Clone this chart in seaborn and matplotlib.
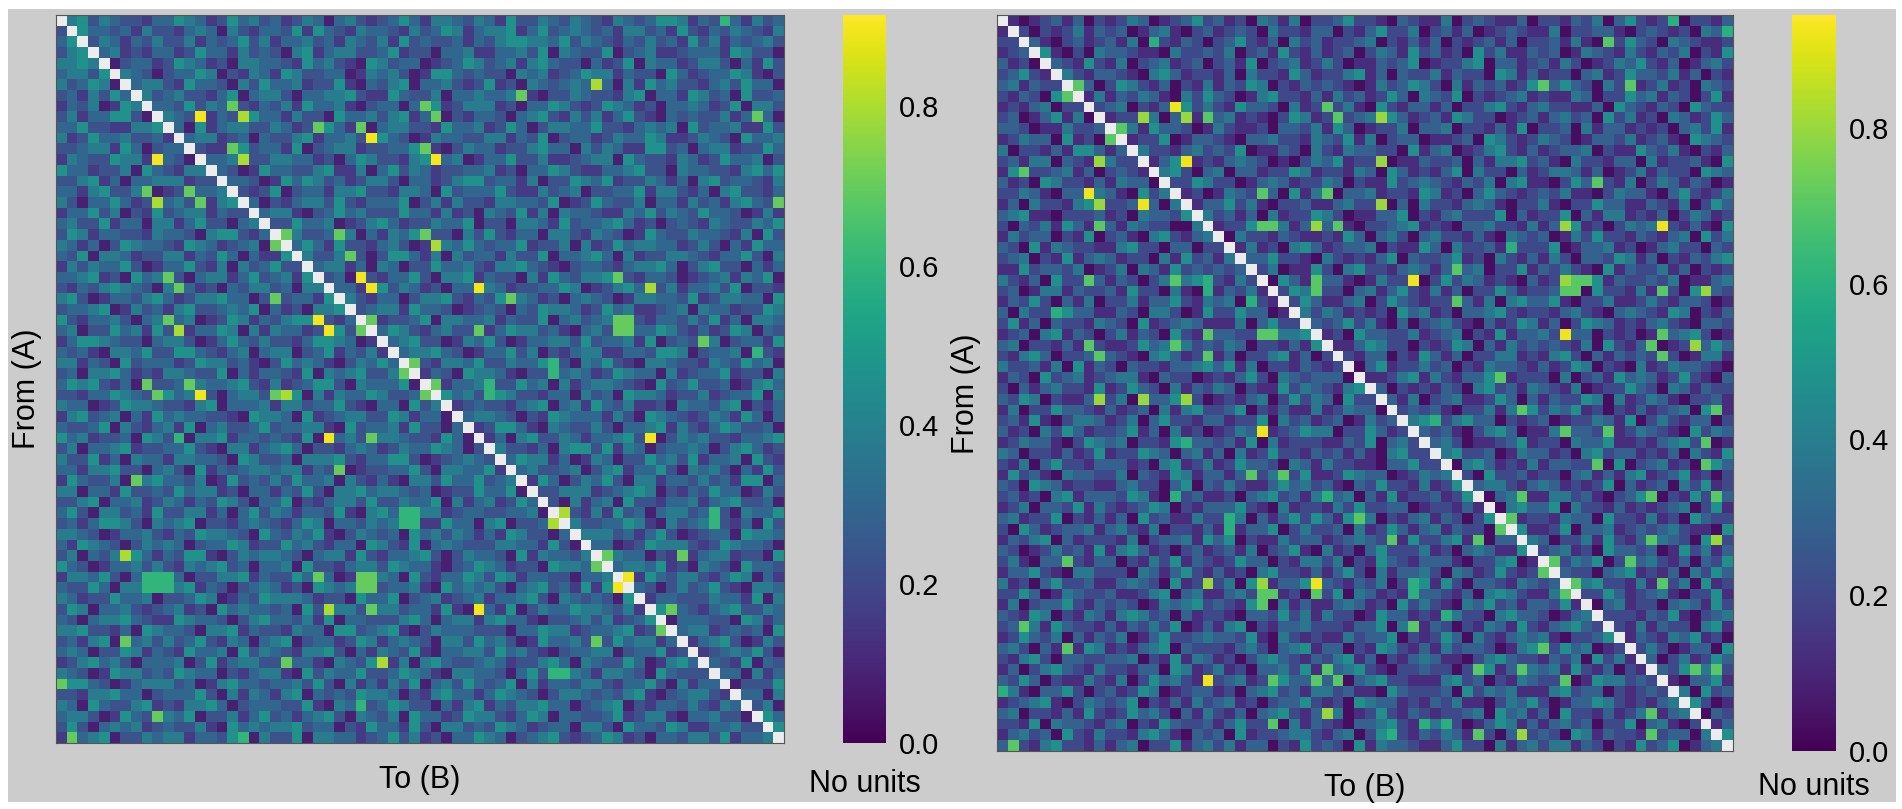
import numpy as np
import pandas as pd
import matplotlib
matplotlib.use("Agg")
import matplotlib.pyplot as plt
import seaborn as sns
from matplotlib.patches import Rectangle

# cell levels, 0 = dark purple ... 9 = yellow
left_rows = [
    "3452432213 3543125342 3124303421 2353144324 3152243243 2143235541 32431423",
    "2453323142 2134304213 3251532143 3214235413 4451352343 2314423152 13243214",
    "3542431324 2241323524 1334231432 4152322313 2455443524 3213242315 24132342",
    "2454341213 3125331423 2045134422 3512203341 1334250432 2502341123 33154220",
    "4454502331 2543120443 3215342105 4233012354 2341453220 3125043312 44203152",
    "3442514320 2335402143 1542233014 3420155323 2204341235 4413220531 23354102",
    "4235401344 2153320425 3341225103 2450334212 5120432343 2304153422 13425330",
    "2314253042 3422135034 4203344521 1532240334 3345102243 2214503315 42305223",
    "1324015443 3252430213 2415334102 3303251244 4120335421 2543120334 31250442",
    "2413355204 4320132453 3142205334 2451340213 3203452142 4135210323 22413530",
    "3352211445 2305134422 4312553120 3442215334 1253024433 5221343405 23341152",
    "4125334223 1534412303 2245133421 5320143322 4413250233 1243354112 43205334",
    "2234415302 3342114523 3150234412 2335410243 3122453304 2431155230 34412253",
    "1432254413 3205334122 4433120354 2214533401 3352241123 4405322143 12533402",
    "5331224053 2144332015 3322451140 3524312233 4120335421 1334522043 32214535",
    "2245130334 4412253320 1535423124 4203312455 2331402254 3512243130 45233214",
    "3314522430 1253344212 5023314452 2144305233 3521142340 2233514421 30452213",
    "4203353124 3422145330 2134425213 3350241422 1443325012 5322403314 23145320",
    "1335240215 2344132253 4410235342 2253314120 4325140433 2114352432 53320141",
    "3422513304 4135220341 2253340124 5312243350 2204431523 3453120232 14322435",
    "2541332214 3320455213 3142235403 1435322042 5213304421 4320153224 33214052",
    "4313025433 2154312340 4235315221 3420144353 2335122404 1253443312 42031533",
    "3250443122 4413253031 1534224320 2553140423 3142250334 5304122443 21335204",
    "1424335201 3352140423 5221344130 4302253342 1445321023 3213445302 45220313",
    "3345120534 2203441352 3415223042 1335204451 3220415324 4532133201 23414350",
    "2132454320 4531203244 2304453312 5243120335 4312233540 1245302413 34250221",
    "4520133245 3124453302 4233150421 3302445213 2554312034 3201443325 12443305",
    "2334501423 1452234350 3120445323 4415332012 3203254431 2534112340 43312254",
    "5213342034 3340125413 2455321304 1223504433 4132250342 3405213324 25130443",
    "3402253415 2213354041 4331205243 3542134220 1354423103 4220335421 31254032",
    "1355432203 4420135324 2213554301 3345220143 5201334425 2334150232 44023315",
    "3231044352 2553213403 4402351324 1234453201 3352402134 4113325540 23340521",
    "4413205233 3125442310 2534310243 5302214435 2243351204 3521044322 14325340",
    "2304453121 4432250313 3215043452 2443132054 4310225343 1254330412 33512204",
    "3545213042 2304334521 4123552043 3350421334 1225340413 4432105235 22301453",
    "2213354320 5341203442 3250414335 4223105342 3542213304 2305443122 41233504",
    "4330125443 2214503334 1442335210 3305244123 2213450341 5324112043 32450213",
    "1452340315 3433221054 4305123442 2541330234 4320215433 3142054321 24315303",
    "3223504213 4150342235 2334410523 3415220341 2553104322 4203345142 13542230",
    "5341223054 2304451332 3215043424 4432215303 1304522431 3345210243 42213345",
    "2403345122 3352104413 4530221343 1243354302 3422130455 2514302334 30245312",
    "4225130433 1443320542 2304445213 3552012343 2235441301 4302253425 13340521",
    "3314452203 4205132344 3441325012 2335204433 5113422340 2451335204 34203152",
    "1532240345 3324015232 4253340421 3104425335 2342153024 3520441332 42315503",
    "4403315223 2534412033 1325204453 4432301225 3350122444 1234540213 25330142",
    "2245033412 4313254203 3502134425 2243350413 4125332041 3405221334 13452230",
    "3520442315 2244130352 4313325104 5302441233 2233405521 4152303442 31204335",
    "2313554204 3450221343 2135403324 3442115330 4502233142 2335410423 44213052",
    "4432013342 1325443205 3243510243 2305342431 3154220334 4423135201 23305443",
    "3154320243 4302335412 2534213305 4215034322 2443315203 3301254442 12543320",
    "2403245531 3255102434 4320344152 1334520243 3205143324 5243302131 34412205",
    "5320133424 2143452303 3405221344 2543310235 4312205443 2234435120 43205332",
    "1443520332 3302244513 2253430142 4305213354 2541332203 3420153244 21354031",
    "3225304413 4451320234 3120543422 2334105343 4203452315 1543320242 35210443",
    "4312253340 2235401325 4443122053 3502341234 1334520432 3205413322 24331504",
    "2540334212 3412053433 2305234421 4423315102 3150243354 4324105232 13452243",
    "3203445321 1543320245 3324150332 2245303441 4533102234 2412354033 32205413",
    "4452213054 3320445132 2143305523 4510243332 2203354412 3345120434 41232305",
    "2314503342 4235214303 4502331254 1343204425 3420153342 2253441301 34520142",
    "3430225413 2153340524 3214452031 4325103344 2534210233 4402335124 12343520",
    "1245342033 3402513442 2533104325 3140453223 4312245304 3225301453 43215032",
    "4320154423 2543302134 4105243352 2354310443 3203524143 1443205322 25330413",
    "3553201344 4230145332 3342520413 1425034253 2350413324 4213352041 33402225",
    "2214453302 3335204143 1450323254 4302145331 3543202443 2324510234 42153304",
    "4305322451 2144530233 3225104342 3542203145 1324453302 3450213324 21435240",
    "3442015323 4350224135 2313452043 2405331254 4213540332 2351244103 34220453",
    "2520343412 3224105343 4452330215 3315204423 2543123304 4205332541 13342205",
    "1334502243 4413325104 2250443312 3524120335 4302345212 3541203324 42513340",
]

right_rows = [
    "2101231302 1243012352 3120431402 2352210321 1402321130 2213240352 12302213",
    "1320212413 2301341023 1232042213 3021352240 2313012321 1402233102 32120431",
    "2213102312 3140221320 2352130423 1223402131 3021231302 2314102253 20432112",
    "1232510204 3321104223 2402315213 1230243152 3120524113 2301432142 13240215",
    "3120232152 1402341230 2315023412 4201132350 1224503312 3142012435 21301342",
    "2352104213 3210453122 1304221531 2245130322 4132205413 1220341253 32413021",
    "3413221030 2542130214 1325402132 3210142354 2041323125 1353204211 24120432",
    "2132052314 1324310425 3201452213 1423125304 3250212341 2114302253 41320251",
    "1213402252 3402131524 2153320412 3241052133 1302245213 4221130532 13205322",
    "2301351402 1225403213 3412102541 2023415312 3154220123 1342305241 20431253",
    "3320114223 2041533201 4211203324 1530122403 3402213150 2230413312 12034251",
    "1243305120 3412250133 2103342214 3251402330 1123054212 4320133241 23105432",
    "4022131553 1304221342 3250113204 2143322051 3401245213 1233402115 32410213",
    "2314403211 4220135312 1343201024 3512240113 2230314452 3104221330 41223105",
    "1502234130 2321145203 4033122541 2214305312 1350422031 2443130124 13220543",
    "3120542213 1433012254 2201343122 4302115234 3213240451 1025332140 24313201",
    "2243103324 3105241120 1432230514 2033412215 4120353212 3241102433 10352124",
    "1304221452 2231304113 3524102231 1342250304 2213431022 4102253311 32140253",
    "3451102223 1204332514 2313041225 4201133502 1342225031 2250314412 13024312",
    "2032415312 3143220041 1225304132 3410223451 2103342214 1335120243 42213105",
    "1423302150 2310452134 3042213211 2153034203 4221310432 3014252213 21340524",
    "3205143221 1452203302 2314120453 1233402115 3042231422 2501334120 13422032",
    "2340215134 3122041523 1403352210 4212135032 2351204213 1420332541 30213245",
    "1152332401 2404315232 3231240115 2045221343 1313402251 3242105132 24130212",
    "4213052213 1320243451 2142305312 3310142240 2524312103 1203451322 32401134",
    "2301441322 3152204103 1324132540 2203413521 4130225312 2341052214 13205432",
    "1325203140 2241335214 3402211253 1134025321 2223140453 3510224112 42133201",
    "3042215331 1320442015 2253301142 4312120534 1203345212 2134210343 21540213",
    "2513032214 3205123431 1140352223 2352410302 3421031254 1302543121 34210332",
    "1230451320 2413205213 3322104451 1205332241 2340215133 4213302120 12345201",
    "3402213152 1125340423 2430221315 3113542202 1254031423 2321405213 30124353",
    "2145302231 3210453124 1302245130 2421330215 3130224412 1452031323 23201441",
    "4223140513 2032213345 3514022132 1240351224 2302143321 3125402104 12433210",
    "1320523412 3441032201 2135204323 3302112451 4213350122 2040231534 31252103",
    "2031342215 1253204132 4302115243 2145330212 1320452314 3214012253 20431322",
    "3254021133 2402335120 1213402524 3052213140 2341125303 1322540412 43102231",
    "1402253321 3123041452 2350213114 1243305232 3102241425 2435120213 12340531",
    "2315102443 1240352213 3122504231 2301423145 1245330212 3012243150 24213302",
    "3120425312 2351304120 1243112354 4022531213 2310245301 1453320124 32105243",
    "1243310254 3402215133 2315041222 1132503424 3420112351 2204335112 13452201",
    "4302213125 1225430341 3041252213 2313104522 1452230143 3120452331 21304215",
    "2140352213 3312045124 1253320431 4221103352 2304531214 1332240502 34120353",
    "1523104332 2403215413 3130242251 1254330124 3412052231 2203413145 12351202",
    "3205431221 1342203503 2421135342 3103252214 1250344213 4312125031 23042512",
    "2312045133 3254102231 1203452314 2340315122 3125203441 1442310235 30215243",
    "1240332514 2123540213 3352104122 1425223301 2213140453 3504221312 12340251",
    "3412250213 1305231142 2240313525 3152402134 1320253412 2143305221 41205322",
    "2053123341 3421402213 1213350242 2304125313 4132202451 1250334123 23421105",
    "1324503122 2140233415 3502114233 1234320152 2451103324 3022415213 14320532",
    "3201242315 1453120231 2314023510 4120352224 1203431152 2341205332 30152413",
    "2410335213 3021425132 1253302144 2402153213 3310224501 1224350213 42130325",
    "1335210442 2204313521 3120452213 1352041334 2043125212 4132203451 21304253",
    "4120352231 1343205123 2405113352 3213240215 1520332143 2301452214 13240512",
    "2253014322 3112450341 1342231205 2504312133 3213045421 1430225312 34102251",
    "1402335213 2320143452 3215204131 1343120524 2104352313 3251203412 20343152",
    "3215402143 1454230312 2103325241 4220153312 1342204533 2013452221 32510234",
    "2304153221 3132425013 1450213342 2213350421 3202143152 1345320214 13220451",
    "1253240313 2401352234 3325104212 1142335021 2530421343 4102235313 21435120",
    "3420312154 1213450322 2134203451 3302154213 1423320145 2253401232 42013305",
    "2145203322 3340215143 1202453213 2451302134 3110245322 1324052413 30241253",
    "1302453214 2213305412 4120334251 1345210223 2202451334 3415213021 13250412",
    "3253021142 1402534213 2341205332 3103452211 1452302143 2230154423 24103351",
    "2410335202 3125401233 1203452314 4231105322 2305243411 1452330212 32140523",
    "1234510243 2350213142 3412023352 1205433121 3241102435 2013354212 13425201",
    "3402213152 1253420314 2130345213 3401252132 1223405341 3052213124 21345032",
    "2215043321 3402153223 1352240413 2103345212 4220135413 1342302250 34102413",
    "1342305214 2214531032 3051223442 1340252213 2431120352 3205413221 12330425",
    "3021452213 1340225134 2413302152 3205143321 1352204134 2441320215 23501342",
]

# bright cells (row, col, level)
left_peaks = [
    (0, 62, 6), (6, 50, 8), (7, 43, 7), (9, 13, 9), (9, 17, 8), (8, 16, 7), (8, 34, 7),
    (9, 35, 7), (10, 24, 7), (10, 28, 7), (11, 29, 9), (9, 65, 7), (13, 9, 9), (12, 16, 7),
    (13, 17, 8), (12, 34, 7), (13, 35, 9), (16, 8, 7), (17, 9, 8), (16, 12, 7), (17, 13, 7),
    (17, 67, 7), (20, 21, 7), (21, 20, 7), (20, 26, 7), (20, 34, 7), (21, 35, 8), (22, 27, 7),
    (24, 10, 7), (25, 11, 7), (24, 28, 9), (25, 29, 9), (25, 39, 9), (24, 52, 7), (25, 55, 8),
    (26, 20, 7), (26, 42, 7), (28, 10, 7), (29, 11, 8), (28, 24, 9), (29, 25, 9), (28, 29, 7),
    (29, 28, 7), (29, 39, 7), (28, 52, 7), (28, 53, 7), (29, 52, 7), (29, 53, 7), (30, 60, 7),
    (31, 65, 6), (32, 33, 7), (33, 32, 7), (32, 46, 6), (33, 46, 6),
    (34, 8, 7), (35, 9, 7), (34, 12, 7), (35, 13, 9), (35, 21, 8), (35, 20, 7), (34, 35, 7),
    (35, 34, 7), (34, 40, 6), (35, 40, 6), (39, 25, 9), (39, 29, 7), (39, 55, 9), (39, 11, 6),
    (42, 26, 7), (43, 7, 7), (46, 32, 6), (46, 33, 6), (47, 32, 6), (47, 33, 6), (46, 47, 8),
    (47, 46, 8), (46, 61, 6), (47, 61, 6), (50, 6, 8), (50, 58, 7), (50, 51, 7), (51, 50, 7),
    (52, 8, 6), (52, 9, 6), (52, 10, 6), (53, 8, 6), (53, 9, 6), (53, 10, 6), (52, 24, 7),
    (52, 28, 7), (52, 29, 7), (53, 28, 7), (53, 29, 7), (52, 53, 9), (53, 52, 9), (55, 25, 8),
    (55, 29, 7), (55, 39, 9), (55, 57, 7), (57, 56, 7), (58, 6, 7), (58, 50, 7), (60, 21, 7),
    (60, 30, 8), (61, 46, 6), (61, 47, 6), (62, 0, 7), (65, 9, 7), (64, 28, 6), (67, 1, 7),
    (67, 17, 6),
]

right_peaks = [
    (0, 62, 6), (1, 67, 6), (2, 56, 7), (2, 14, 6), (6, 7, 7), (7, 6, 7), (6, 50, 7), (6, 58, 7),
    (8, 16, 9), (9, 13, 8), (9, 17, 8), (9, 19, 7), (8, 30, 7), (9, 31, 7), (9, 35, 8),
    (10, 11, 7), (11, 10, 7), (13, 9, 8), (13, 17, 9), (13, 35, 8), (14, 2, 7), (16, 8, 9),
    (17, 9, 8), (17, 13, 9), (16, 24, 7), (16, 30, 7), (17, 35, 8), (15, 55, 7), (19, 9, 7),
    (19, 24, 7), (19, 25, 7), (19, 29, 8), (19, 31, 7), (19, 52, 8), (19, 61, 9), (21, 47, 6),
    (23, 42, 7), (24, 38, 9), (24, 8, 7), (24, 16, 7), (24, 19, 6), (25, 19, 6), (24, 29, 7),
    (25, 29, 7), (24, 52, 8), (24, 53, 7), (24, 54, 7), (25, 52, 7), (25, 53, 7), (25, 61, 7),
    (25, 65, 8), (26, 42, 7), (26, 23, 6), (27, 5, 6), (29, 19, 7), (29, 24, 7), (29, 25, 7),
    (29, 52, 9), (29, 61, 7), (30, 8, 7), (30, 16, 7), (30, 60, 7), (30, 64, 8), (31, 9, 7),
    (31, 19, 7), (31, 61, 7), (33, 46, 7),
    (35, 9, 8), (35, 13, 8), (35, 17, 8), (36, 48, 7), (36, 66, 7), (37, 40, 6), (38, 24, 9),
    (38, 52, 7), (38, 56, 7), (39, 17, 6), (39, 65, 7), (41, 65, 7), (41, 55, 7), (42, 23, 7),
    (42, 26, 7), (44, 16, 6), (44, 30, 6), (44, 48, 7), (44, 60, 7), (44, 66, 7), (46, 33, 7),
    (46, 47, 7), (47, 46, 7), (46, 21, 6), (47, 21, 6), (48, 66, 8), (48, 60, 7), (48, 44, 7),
    (48, 36, 7), (50, 6, 7), (50, 58, 7), (50, 51, 7), (51, 50, 7), (52, 19, 8), (52, 24, 8),
    (53, 24, 7), (54, 24, 7), (53, 25, 7), (52, 29, 9), (53, 29, 7), (52, 53, 7), (53, 52, 7),
    (52, 61, 7), (52, 38, 6), (53, 38, 6), (56, 2, 7), (56, 38, 7), (55, 41, 6), (58, 6, 7),
    (58, 50, 7), (60, 30, 7), (61, 29, 7), (61, 31, 7), (61, 19, 9), (61, 25, 7), (60, 44, 7),
    (60, 48, 7), (61, 52, 7), (60, 64, 7), (60, 66, 7), (62, 0, 6), (64, 30, 8), (64, 60, 7),
    (65, 25, 7), (65, 39, 6), (65, 41, 6), (66, 44, 7), (66, 48, 8), (66, 60, 7), (66, 36, 6),
    (67, 1, 7),
]

# what each level stands for (the left map is lighter overall than the right one)
left_levels = [0.08, 0.16, 0.23, 0.30, 0.38, 0.46, 0.60, 0.70, 0.80, 0.90]
right_levels = [0.03, 0.12, 0.21, 0.29, 0.38, 0.47, 0.60, 0.70, 0.80, 0.92]

left_vmax = 0.915
right_vmax = 0.945
cbar_ticks = [0.0, 0.2, 0.4, 0.6, 0.8]
x_label = "To (B)"
y_label = "From (A)"
unit_label = "No units"


def build_matrix(rows, peaks, levels):
    grid = []
    for i, r in enumerate(rows):
        cells = r.replace(" ", "")
        if len(cells) != 68:
            raise ValueError(f"row {i} has {len(cells)} cells")
        grid.append([int(ch) for ch in cells])
    grid = np.array(grid)
    for r, c, lvl in peaks:
        grid[r, c] = lvl
    return pd.DataFrame(np.array(levels)[grid])


W, H = 1902, 809


def box(x0, y0, x1, y1):
    # pixel box -> figure fraction [left, bottom, width, height]
    return [x0 / W, 1 - y1 / H, (x1 - x0) / W, (y1 - y0) / H]


sns.set_theme(style="white")
plt.rcParams['font.family'] = ['Liberation Sans', 'DejaVu Sans']
plt.rcParams['text.color'] = 'black'
plt.rcParams['axes.labelcolor'] = 'black'
plt.rcParams['ytick.color'] = 'black'

fig = plt.figure(figsize=(W / 100, H / 100), dpi=100, facecolor='white')
fig.patches.append(Rectangle((8 / W, 1 - 802 / H), (1896 - 8) / W, (802 - 9) / H,
                             transform=fig.transFigure, facecolor='#cccccc',
                             edgecolor='none', zorder=-10))

panels = [
    (build_matrix(left_rows, left_peaks, left_levels), left_vmax,
     box(56, 15, 784, 743), box(843, 15, 886, 743), -0.019, -0.036),
    (build_matrix(right_rows, right_peaks, right_levels), right_vmax,
     box(997, 15, 1733, 751), box(1792, 15, 1836, 751), -0.022, -0.029),
]

for df, vmax, ax_box, cb_box, ylab_x, unit_y in panels:
    ax = fig.add_axes(ax_box)
    cax = fig.add_axes(cb_box)
    mask = np.eye(len(df), dtype=bool)
    sns.heatmap(df, mask=mask, cmap='viridis', vmin=0, vmax=vmax, ax=ax, cbar_ax=cax,
                xticklabels=False, yticklabels=False, linewidths=0)
    ax.set_facecolor('#ececec')
    for s in ax.spines.values():
        s.set_visible(True)
        s.set_color('#555555')
        s.set_linewidth(0.8)
    ax.set_xlabel(x_label, fontsize=22, color='black')
    ax.xaxis.set_label_coords(0.5, -0.030)
    ax.set_ylabel(y_label, fontsize=22, color='black')
    ax.yaxis.set_label_coords(ylab_x, 0.486)

    cbar = ax.collections[0].colorbar
    cbar.outline.set_visible(False)
    cbar.set_ticks(cbar_ticks)
    cbar.set_ticklabels([f"{t:.1f}" for t in cbar_ticks])
    cax.tick_params(length=0, labelsize=21, pad=9, labelcolor='black')
    cax.text(0.5, unit_y, unit_label, transform=cax.transAxes, ha='center', va='top',
             fontsize=22, color='black')

fig.savefig("out.png", dpi=100, facecolor=fig.get_facecolor())
